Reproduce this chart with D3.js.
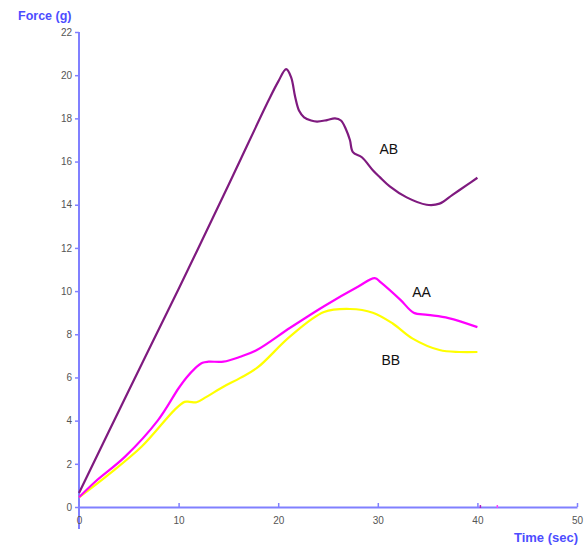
<!DOCTYPE html>
<html>
<head>
<meta charset="utf-8">
<script src="https://cdn.jsdelivr.net/npm/d3@7"></script>
<style>
  html, body { margin: 0; padding: 0; background: #fff; }
  svg { display: block; }
</style>
</head>
<body>
<svg id="chart" width="584" height="546"></svg>
<script>
// Force (g) versus time (sec) for three specimens
const timeTicks = [0, 10, 20, 30, 40, 50];
const forceTicks = [0, 2, 4, 6, 8, 10, 12, 14, 16, 18, 20, 22];

const abTime  = [0, 5, 10, 15, 19, 20, 20.8, 21.3, 21.7, 22.1, 22.6, 23.3, 23.9, 24.9, 25.7, 26.3, 26.8, 27.2, 27.5, 28.4, 29.5, 30.2, 31.2, 32.9, 34.9, 36.2, 37.5, 39.0, 40.0];
const abForce = [0.65, 5.4, 10.1, 14.9, 18.8, 19.7, 20.28, 19.9, 19.0, 18.35, 18.05, 17.9, 17.85, 17.92, 18.0, 17.9, 17.5, 17.0, 16.44, 16.2, 15.6, 15.28, 14.85, 14.34, 14.0, 14.05, 14.46, 14.93, 15.25];

const aaTime  = [0, 1.6, 4.6, 7.9, 10.0, 10.8, 11.6, 12.4, 13.0, 14.5, 16.2, 17.9, 21.2, 24.6, 28.0, 29.7, 30.3, 32.3, 33.6, 35.0, 37.1, 40.0];
const aaForce = [0.45, 1.16, 2.32, 4.0, 5.5, 6.0, 6.4, 6.68, 6.73, 6.73, 6.96, 7.28, 8.3, 9.3, 10.2, 10.6, 10.4, 9.58, 9.0, 8.9, 8.75, 8.33];

const bbTime  = [0, 2.9, 6.3, 9.6, 10.6, 11.1, 11.8, 12.8, 14.5, 16.2, 17.9, 21.2, 24.6, 27.2, 29.5, 31.5, 33.5, 36.2, 38.2, 40.0];
const bbForce = [0.45, 1.48, 2.8, 4.5, 4.87, 4.87, 4.85, 5.1, 5.57, 5.98, 6.45, 7.9, 9.03, 9.17, 9.0, 8.5, 7.8, 7.27, 7.18, 7.18];

const seriesNames  = ["BB", "AA", "AB"];
const seriesColors = ["#ffff00", "#ff00ff", "#7f1a7f"];
const labelTime  = [31.3, 34.4, 31.1];
const labelForce = [6.8, 9.95, 16.6];

const eventTimes  = [40.3, 42.0];

const svg = d3.select("#chart");
const x = d3.scaleLinear().domain([0, 50]).range([79, 577]);
const y = d3.scaleLinear().domain([0, 22]).range([507, 32]);

const axisColor = "#8080ff";
const tickTextColor = "#555";
const font = "Liberation Sans, Arial, sans-serif";

// y axis: line continues a little below the x axis
svg.append("line")
  .attr("x1", x(0)).attr("x2", x(0))
  .attr("y1", y(22)).attr("y2", 529)
  .attr("stroke", axisColor).attr("stroke-width", 2);

const yAxis = d3.axisLeft(y).tickValues(forceTicks).tickSize(4).tickSizeOuter(0);
const gy = svg.append("g").attr("transform", `translate(${x(0)},0)`).call(yAxis);
gy.select(".domain").remove();
gy.selectAll(".tick line").attr("stroke", axisColor).attr("stroke-width", 1.5);
gy.selectAll(".tick text")
  .attr("fill", tickTextColor).attr("x", -7)
  .style("font-family", font).style("font-size", "10px");

// x axis with ticks pointing up into the plot
const xAxis = d3.axisBottom(x).tickValues(timeTicks).tickSize(-4).tickSizeOuter(0);
const gx = svg.append("g").attr("transform", `translate(0,${y(0)})`).call(xAxis);
gx.select(".domain").attr("stroke", axisColor).attr("stroke-width", 2);
gx.selectAll(".tick line").attr("stroke", axisColor).attr("stroke-width", 1.5);
gx.selectAll(".tick text")
  .attr("fill", tickTextColor).attr("y", 10)
  .style("font-family", font).style("font-size", "10px");
gx.selectAll(".tick").filter(d => d === 0).select("line").remove();

// event markers on the time axis
svg.selectAll("line.event").data(eventTimes).join("line")
  .attr("class", "event")
  .attr("x1", d => x(d)).attr("x2", d => x(d))
  .attr("y1", y(0) - 2).attr("y2", y(0) + 1)
  .attr("stroke", (d, i) => i === 0 ? "#b020c0" : "#ff40ff")
  .attr("stroke-width", 1.5);

// axis titles
svg.append("text").text("Force (g)")
  .attr("x", 18).attr("y", 20)
  .attr("fill", "#4d4dff").style("font-weight", "bold")
  .style("font-family", font).style("font-size", "12.5px");
svg.append("text").text("Time (sec)")
  .attr("x", 578).attr("y", 542).attr("text-anchor", "end")
  .attr("fill", "#4d4dff").style("font-weight", "bold")
  .style("font-family", font).style("font-size", "13px");

// curves
const series = [
  { t: bbTime, f: bbForce },
  { t: aaTime, f: aaForce },
  { t: abTime, f: abForce }
];
const line = d3.line().x(d => x(d[0])).y(d => y(d[1])).curve(d3.curveCatmullRom.alpha(0.5));

series.forEach((s, i) => {
  const pts = s.t.map((t, j) => [t, s.f[j]]);
  svg.append("path").datum(pts)
    .attr("d", line)
    .attr("fill", "none")
    .attr("stroke", seriesColors[i])
    .attr("stroke-width", 2.2)
    .attr("stroke-linejoin", "round");
});

// series labels
seriesNames.forEach((name, i) => {
  svg.append("text").text(name)
    .attr("x", x(labelTime[i])).attr("y", y(labelForce[i]))
    .attr("text-anchor", "middle").attr("dominant-baseline", "central")
    .attr("fill", "#111")
    .style("font-family", font).style("font-size", "14px");
});
</script>
</body>
</html>
